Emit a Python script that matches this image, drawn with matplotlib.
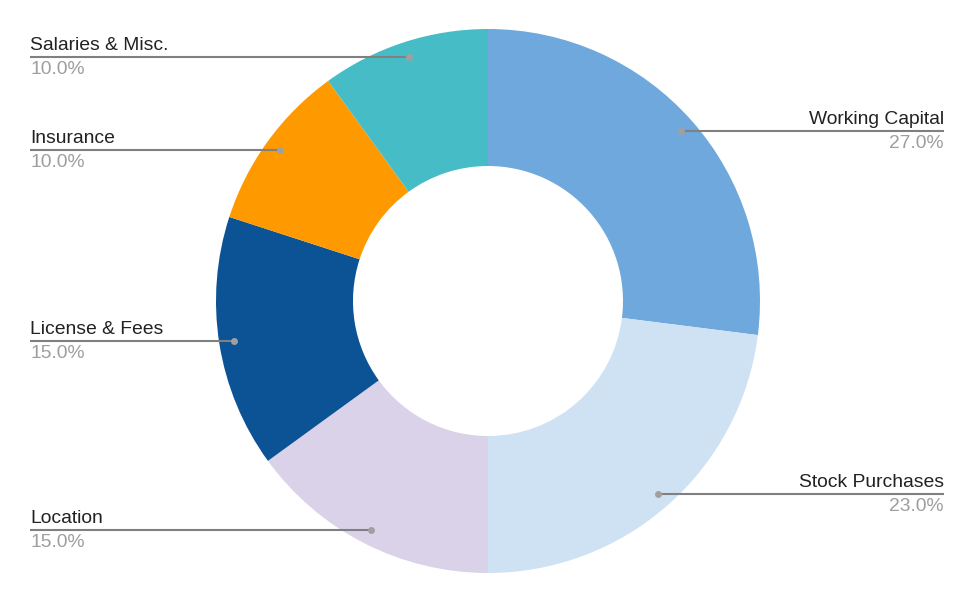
import numpy as np
import matplotlib

matplotlib.use("Agg")
import matplotlib.pyplot as plt

labels = ["Working Capital", "Stock Purchases", "Location", "License & Fees", "Insurance", "Salaries & Misc."]
shares = [27.0, 23.0, 15.0, 15.0, 10.0, 10.0]
colors = ["#6fa8dc", "#cfe2f3", "#d9d2e9", "#0b5394", "#ff9900", "#46bdc6"]

W, H = 975, 603
CX, CY = 488, H - 301
R_OUT, R_IN = 272, 135
R_DOT = 257
LEFT_X, RIGHT_X = 30, 944

plt.rcParams["font.family"] = ["Liberation Sans", "DejaVu Sans"]

fig = plt.figure(figsize=(W / 100, H / 100), dpi=100)
ax = fig.add_axes([0, 0, 1, 1])

wedges, _ = ax.pie(
    shares, colors=colors, center=(CX, CY), radius=R_OUT, startangle=90,
    counterclock=False, wedgeprops=dict(width=R_OUT - R_IN, linewidth=0),
    frame=True,
)
ax.set_xlim(0, W)
ax.set_ylim(0, H)
ax.set_aspect("equal")
ax.axis("off")

# leader lines + labels
start = 90.0
total = sum(shares)
for name, val in zip(labels, shares):
    span = 360.0 * val / total
    mid = np.deg2rad(start - span / 2)
    start -= span
    dx = CX + R_DOT * np.cos(mid)
    dy = CY + R_DOT * np.sin(mid)
    if np.cos(mid) >= 0:
        x0, x1, tx, ha = dx, RIGHT_X, RIGHT_X, "right"
    else:
        x0, x1, tx, ha = LEFT_X, dx, LEFT_X, "left"
    ax.plot([x0, x1], [dy, dy], color="#808080", lw=1.5, solid_capstyle="butt", zorder=3)
    ax.plot(dx, dy, "o", color="#a0a0a0", ms=5, mec="none", zorder=4)
    ax.text(tx, dy + 7, name, ha=ha, va="baseline", fontsize=13.9, color="#222222")
    ax.text(tx, dy - 17, f"{val:.1f}%", ha=ha, va="baseline", fontsize=13.9, color="#9e9e9e")

fig.savefig("out.png", dpi=100)
